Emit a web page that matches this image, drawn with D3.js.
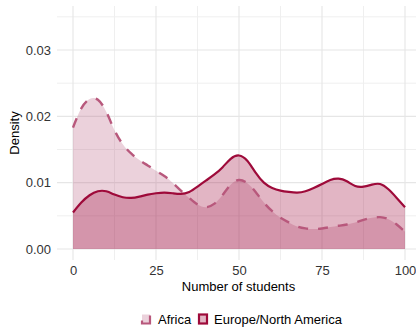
<!DOCTYPE html>
<html>
<head>
<meta charset="utf-8">
<script src="https://cdn.jsdelivr.net/npm/d3@7"></script>
<style>
  html, body { margin: 0; padding: 0; background: #ffffff; }
  svg { display: block; font-family: "Liberation Sans", Arial, sans-serif; }
</style>
</head>
<body>
<svg id="chart" width="416" height="329"></svg>
<script>
const seriesNames = ["Africa", "Europe/North America"];
const xValues = [0, 2.5, 5, 7.5, 10, 12.5, 15, 17.5, 20, 22.5, 25, 27.5, 30, 32.5, 35, 37.5, 40,
  42.5, 45, 47.5, 50, 52.5, 55, 57.5, 60, 62.5, 65, 67.5, 70, 72.5, 75, 77.5, 80, 82.5, 85, 87.5,
  90, 92.5, 95, 97.5, 100];
const africaDensity = [0.0183, 0.0212, 0.0226, 0.0225, 0.0207, 0.0179, 0.0158, 0.0144, 0.0134,
  0.0126, 0.0118, 0.0110, 0.0100, 0.0088, 0.0077, 0.0067, 0.0063, 0.0068, 0.0081, 0.0097, 0.0104,
  0.0099, 0.0086, 0.0070, 0.0057, 0.0047, 0.0040, 0.0034, 0.0031, 0.0030, 0.0031, 0.0033, 0.0035,
  0.0037, 0.0040, 0.0044, 0.0047, 0.0048, 0.0045, 0.0037, 0.0026];
const europeDensity = [0.0055, 0.0070, 0.0081, 0.0087, 0.0087, 0.0082, 0.0078, 0.0077, 0.0079,
  0.0082, 0.0084, 0.0085, 0.0084, 0.0083, 0.0086, 0.0094, 0.0103, 0.0112, 0.0123, 0.0136, 0.0141,
  0.0133, 0.0115, 0.0100, 0.0092, 0.0088, 0.0086, 0.0085, 0.0087, 0.0092, 0.0098, 0.0104, 0.0106,
  0.0102, 0.0095, 0.0094, 0.0097, 0.0098, 0.0090, 0.0077, 0.0063];
const xTicks = [0, 25, 50, 75, 100];
const xMinor = [12.5, 37.5, 62.5, 87.5];
const yTicks = [0, 0.01, 0.02, 0.03];
const yMinor = [0.005, 0.015, 0.025, 0.035];
const yTickLabels = ["0.00", "0.01", "0.02", "0.03"];

const svg = d3.select("#chart");
const panel = { left: 57, right: 416, top: 6, bottom: 260 };
const x = d3.scaleLinear().domain([0, 100]).range([73, 405]);
const y = d3.scaleLinear().domain([0, 0.03]).range([249, 50]);

const colors = {
  africaLine: "#b8587c",
  africaFill: "rgba(184,88,124,0.28)",
  europeLine: "#9e0a3a",
  europeFill: "rgba(158,10,58,0.30)"
};

// grid
const grid = svg.append("g");
yMinor.forEach(v => grid.append("line").attr("x1", panel.left).attr("x2", panel.right)
  .attr("y1", y(v)).attr("y2", y(v)).attr("stroke", "#efefef").attr("stroke-width", 1));
xMinor.forEach(v => grid.append("line").attr("x1", x(v)).attr("x2", x(v))
  .attr("y1", panel.top).attr("y2", panel.bottom).attr("stroke", "#efefef").attr("stroke-width", 1));
yTicks.forEach(v => grid.append("line").attr("x1", panel.left).attr("x2", panel.right)
  .attr("y1", y(v)).attr("y2", y(v)).attr("stroke", "#e6e6e6").attr("stroke-width", 1.1));
xTicks.forEach(v => grid.append("line").attr("x1", x(v)).attr("x2", x(v))
  .attr("y1", panel.top).attr("y2", panel.bottom).attr("stroke", "#e6e6e6").attr("stroke-width", 1.1));

const africa = xValues.map((v, i) => ({ x: v, y: africaDensity[i] }));
const europe = xValues.map((v, i) => ({ x: v, y: europeDensity[i] }));
const curve = d3.curveNatural;
const area = d3.area().x(d => x(d.x)).y0(y(0)).y1(d => y(d.y)).curve(curve);
const line = d3.line().x(d => x(d.x)).y(d => y(d.y)).curve(curve);

svg.append("path").attr("d", area(africa)).attr("fill", colors.africaFill);
svg.append("path").attr("d", area(europe)).attr("fill", colors.europeFill);
svg.append("path").attr("d", line(africa)).attr("fill", "none")
  .attr("stroke", colors.africaLine).attr("stroke-width", 2.4).attr("stroke-dasharray", "10,10");
svg.append("path").attr("d", line(europe)).attr("fill", "none")
  .attr("stroke", colors.europeLine).attr("stroke-width", 2.2);

// axes labels
const xAxis = d3.axisBottom(x).tickValues(xTicks).tickSize(0).tickPadding(0);
const gx = svg.append("g").attr("transform", `translate(0,${panel.bottom + 6})`).call(xAxis);
gx.select(".domain").remove();
gx.selectAll("text").attr("font-size", 13).attr("fill", "#333").attr("font-family", "Liberation Sans, Arial, sans-serif");

const yAxis = d3.axisLeft(y).tickValues(yTicks).tickFormat((d, i) => yTickLabels[i]).tickSize(0).tickPadding(0);
const gy = svg.append("g").attr("transform", `translate(51,0)`).call(yAxis);
gy.select(".domain").remove();
gy.selectAll("text").attr("font-size", 13).attr("fill", "#333").attr("font-family", "Liberation Sans, Arial, sans-serif");

svg.append("text").attr("x", (panel.left + 416) / 2 + 2).attr("y", 291).attr("text-anchor", "middle")
  .attr("font-size", 13).attr("fill", "#000").text("Number of students");
svg.append("text").attr("transform", `translate(19,${(panel.top + panel.bottom) / 2}) rotate(-90)`)
  .attr("text-anchor", "middle").attr("font-size", 13).attr("fill", "#000").text("Density");

// legend
const legend = svg.append("g");
const keys = [
  { name: seriesNames[0], kx: 142, tx: 158, fill: colors.africaFill, stroke: colors.africaLine, dash: "0,9,19,9" },
  { name: seriesNames[1], kx: 199, tx: 214, fill: colors.europeFill, stroke: colors.europeLine, dash: null }
];
keys.forEach(k => {
  legend.append("rect").attr("x", k.kx).attr("y", 314.5).attr("width", 8).attr("height", 9)
    .attr("fill", k.fill).attr("stroke", k.stroke).attr("stroke-width", 2.2)
    .attr("stroke-dasharray", k.dash);
  legend.append("text").attr("x", k.tx).attr("y", 324).attr("font-size", 13).attr("fill", "#000").text(k.name);
});
</script>
</body>
</html>
